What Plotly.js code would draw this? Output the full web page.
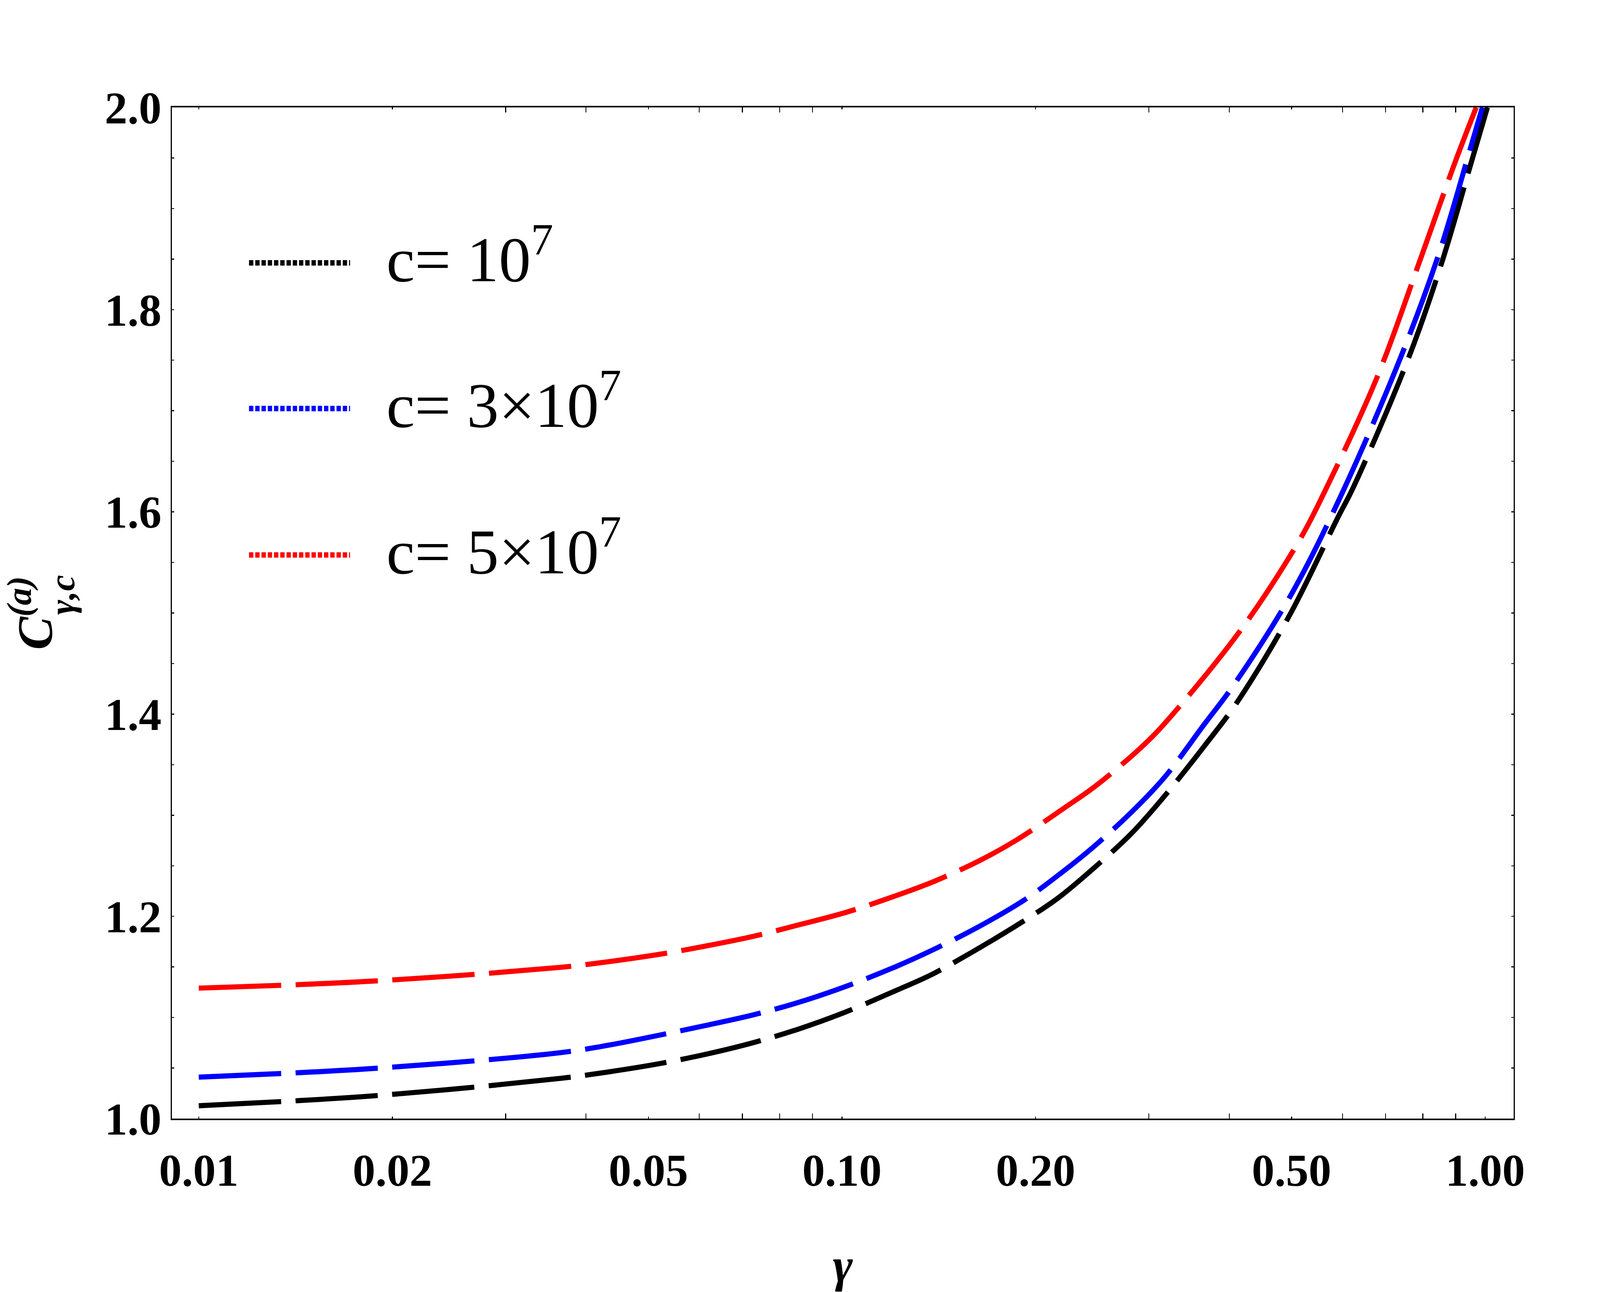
<!DOCTYPE html>
<html>
<head>
<meta charset="utf-8">
<script src="https://cdn.plot.ly/plotly-3.0.1.min.js"></script>
<style>html,body{margin:0;padding:0;background:#fff;overflow:hidden;}#chart{width:100vw;height:100vh;}</style>
</head>
<body>
<div id="chart"></div>
<script>
// ---- data ----
const gamma1 = [0.01, 0.0187, 0.0365, 0.04327, 0.0522, 0.0615, 0.0725, 0.0852, 0.1004, 0.1214, 0.1380, 0.1597, 0.1912, 0.2162, 0.2429, 0.2812, 0.3143, 0.3659, 0.4112, 0.4966, 0.5916, 0.6226, 0.7585, 0.8587, 0.9510, 1.008];
const c1e7   = [1.0127, 1.0225, 1.0398, 1.0461, 1.0545, 1.0637, 1.0748, 1.0881, 1.1044, 1.1267, 1.1426, 1.165, 1.195, 1.2176, 1.2443, 1.2813, 1.3158, 1.3684, 1.4115, 1.4979, 1.5958, 1.6232, 1.7507, 1.8492, 1.9452, 2.0];

const gamma3 = [0.01, 0.0187, 0.0365, 0.04327, 0.0522, 0.0615, 0.0725, 0.0852, 0.1008, 0.1214, 0.1384, 0.1606, 0.1918, 0.2162, 0.2444, 0.2829, 0.3180, 0.3659, 0.4054, 0.4993, 0.5948, 0.7366, 0.8462, 0.9441, 0.990];
const c3e7   = [1.041, 1.0496, 1.0652, 1.0725, 1.0827, 1.0922, 1.1023, 1.1145, 1.1301, 1.1504, 1.1668, 1.1874, 1.2159, 1.2400, 1.2671, 1.3040, 1.3382, 1.3900, 1.4277, 1.5182, 1.6142, 1.7507, 1.8541, 1.9551, 2.0];

const gamma5 = [0.01, 0.0187, 0.0365, 0.04327, 0.0522, 0.0615, 0.0728, 0.0858, 0.1014, 0.1214, 0.1396, 0.1635, 0.1863, 0.2227, 0.2487, 0.2963, 0.3255, 0.4189, 0.5161, 0.566, 0.6795, 0.7923, 0.8971, 0.9685];
const c5e7   = [1.129, 1.136, 1.1496, 1.1551, 1.1626, 1.1707, 1.1802, 1.1917, 1.2039, 1.2205, 1.2350, 1.2550, 1.2750, 1.3081, 1.3296, 1.3710, 1.3986, 1.4850, 1.5736, 1.6232, 1.7335, 1.8492, 1.9452, 2.0];

const seriesNames = ['c= 10<sup>7</sup>', 'c= 3×10<sup>7</sup>', 'c= 5×10<sup>7</sup>'];
const seriesColors = ['#000000', '#0000ff', '#ff0000'];

const xTickVals = [0.01, 0.02, 0.05, 0.1, 0.2, 0.5, 1];
const xTickText = ['0.01', '0.02', '0.05', '0.10', '0.20', '0.50', '1.00'];
const xMinorVals = [0.03, 0.04, 0.06, 0.07, 0.08, 0.09, 0.3, 0.4, 0.6, 0.7, 0.8, 0.9];
const yTickVals = [1.0, 1.2, 1.4, 1.6, 1.8, 2.0];
const yTickText = ['1.0', '1.2', '1.4', '1.6', '1.8', '2.0'];

// ---- sizing (designed for 5000 x 3308, scaled to the actual window) ----
const W = window.innerWidth || 5000;
const H = window.innerHeight || 3308;
const sx = W / 5000, sy = H / 3308, sf = Math.min(sx, sy);
const serif = 'Liberation Serif, Times New Roman, serif';

const dash = Math.round(257 * sx) + 'px,' + Math.round(45 * sx) + 'px';
const xs = [gamma1, gamma3, gamma5];
const ys = [c1e7, c3e7, c5e7];
const traces = xs.map((x, i) => ({
  x: x, y: ys[i], type: 'scatter', mode: 'lines', name: seriesNames[i],
  showlegend: false, hoverinfo: 'skip',
  line: {color: seriesColors[i], width: 16 * sf, dash: dash, shape: 'spline', smoothing: 1}
}));

const tickFont = {family: serif, size: 142 * sf, color: '#000', weight: 'bold'};

// legend drawn as layout decoration
const legRowsY = [0.8463, 0.7022, 0.5574];
const shapes = legRowsY.map((yy, i) => ({
  type: 'line', xref: 'paper', yref: 'paper', x0: 0.0575, x1: 0.1328, y0: yy, y1: yy,
  line: {color: seriesColors[i], width: 17 * sf, dash: Math.round(14 * sx) + 'px,' + Math.round(6 * sx) + 'px'}
}));
const annotations = legRowsY.map((yy, i) => ({
  xref: 'paper', yref: 'paper', x: 0.1593, y: yy, xanchor: 'left', yanchor: 'middle', yshift: 21 * sy,
  text: seriesNames[i], showarrow: false,
  font: {family: serif, size: 200 * sf, color: '#000'}
}));
// subscript of the y-axis title, stacked under the superscript
annotations.push({
  xref: 'paper', yref: 'paper', x: -0.0818, y: 0.518, xanchor: 'center', yanchor: 'middle',
  text: '<b><i>γ,c</i></b>', textangle: -90, showarrow: false,
  font: {family: serif, size: 112 * sf, color: '#000'}
});

const layout = {
  width: W, height: H,
  paper_bgcolor: '#fff', plot_bgcolor: '#fff',
  margin: {l: 537 * sx, r: 270 * sx, t: 275 * sy, b: 444 * sy, pad: 0},
  showlegend: false,
  xaxis: {
    type: 'log', range: [-2.0418, 0.0443], autorange: false,
    tickmode: 'array', tickvals: xTickVals, ticktext: xTickText,
    ticks: 'inside', ticklen: 6 * sf, tickwidth: 3 * sf, tickcolor: '#000',
    minor: {tickmode: 'array', tickvals: xMinorVals, ticks: 'inside', ticklen: 16 * sf, tickwidth: 3 * sf, tickcolor: '#000', showgrid: false},
    showline: true, linewidth: 5 * sf, linecolor: '#000', mirror: 'ticks',
    showgrid: false, zeroline: false,
    tickfont: tickFont, ticklabelstandoff: 28 * sy,
    title: {text: '<b><i>γ</i></b>', font: {family: serif, size: 150 * sf, color: '#000'}, standoff: 136 * sy}
  },
  yaxis: {
    range: [1, 2], autorange: false,
    tickmode: 'array', tickvals: yTickVals, ticktext: yTickText,
    ticks: 'inside', ticklen: 7 * sf, tickwidth: 3 * sf, tickcolor: '#000',
    minor: {dtick: 0.05, ticks: 'inside', ticklen: 7 * sf, tickwidth: 3 * sf, tickcolor: '#000', showgrid: false},
    showline: true, linewidth: 4 * sf, linecolor: '#000', mirror: 'ticks',
    showgrid: false, zeroline: false,
    tickfont: tickFont, ticklabelstandoff: 24 * sx,
    title: {text: '<b><i>C<sup>(a)</sup></i></b>', font: {family: serif, size: 155 * sf, color: '#000'}, standoff: 113 * sx}
  },
  shapes: shapes,
  annotations: annotations
};

Plotly.newPlot('chart', traces, layout, {staticPlot: true, displayModeBar: false});
</script>
</body>
</html>
